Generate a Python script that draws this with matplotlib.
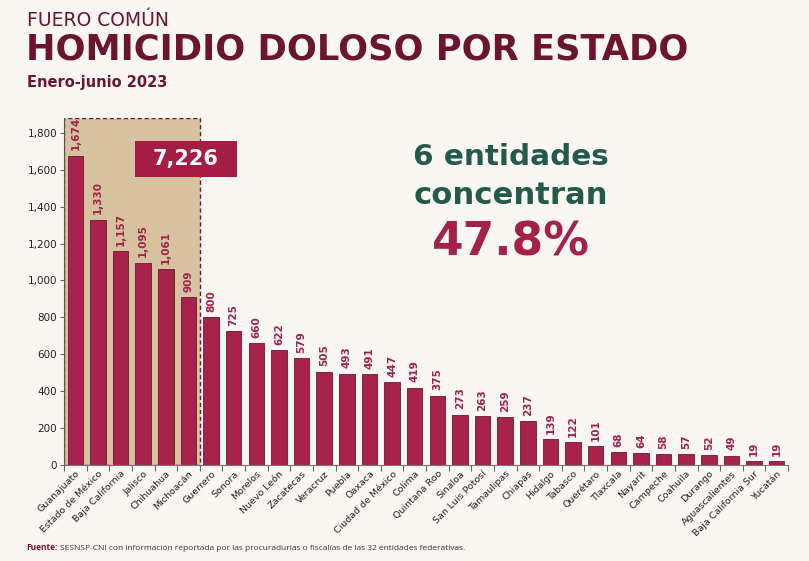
import matplotlib
matplotlib.use("Agg")
import matplotlib.pyplot as plt
from matplotlib.patches import Rectangle

estados = ["Guanajuato", "Estado de México", "Baja California", "Jalisco", "Chihuahua",
           "Michoacán", "Guerrero", "Sonora", "Morelos", "Nuevo León", "Zacatecas",
           "Veracruz", "Puebla", "Oaxaca", "Ciudad de México", "Colima", "Quintana Roo",
           "Sinaloa", "San Luis Potosí", "Tamaulipas", "Chiapas", "Hidalgo", "Tabasco",
           "Querétaro", "Tlaxcala", "Nayarit", "Campeche", "Coahuila", "Durango",
           "Aguascalientes", "Baja California Sur", "Yucatán"]
homicidios = [1674, 1330, 1157, 1095, 1061, 909, 800, 725, 660, 622, 579, 505, 493,
              491, 447, 419, 375, 273, 263, 259, 237, 139, 122, 101, 68, 64, 58, 57,
              52, 49, 19, 19]
yticks = [0, 200, 400, 600, 800, 1000, 1200, 1400, 1600, 1800]
total_top6 = "7,226"
porcentaje = "47.8%"

maroon = "#6b1530"
barc = "#a8234b"
green = "#245a4b"

W, H = 809, 561
fig = plt.figure(figsize=(W/100, H/100), dpi=100, facecolor="#faf7f3")
renderer = fig.canvas.get_renderer()


def fit_text(px_left, px_center_y, txt, target_w, ha="left", **kw):
    t = fig.text(px_left / W, 1 - px_center_y / H, txt, ha=ha, va="center", **kw)
    w = t.get_window_extent(renderer).width
    t.set_fontsize(t.get_fontsize() * target_w / w)
    return t


ax = fig.add_axes([64/W, 1-465/H, (788-64)/W, (465-118)/H])
ax.set_facecolor("none")

x = list(range(len(estados)))
ax.set_xlim(-0.5, 31.5)
ax.set_ylim(0, 1880)

ax.add_patch(Rectangle((-0.5, 0), 6, 1880, facecolor="#d6c29e", edgecolor="#6b1530",
                       linestyle=(0, (3, 2)), linewidth=1.0, zorder=0))

ax.bar(x, homicidios, width=0.68, color=barc, edgecolor="#6e1632", linewidth=0.6, zorder=2)
for xi, v in zip(x, homicidios):
    ax.text(xi, v + 30, f"{v:,}", rotation=90, ha="center", va="bottom",
            fontsize=7.5, fontweight="bold", color="#a3214a", zorder=3)

ax.set_yticks(yticks)
ax.set_yticklabels([f"{t:,}" for t in yticks], fontsize=7.5, color="#222222")
ax.set_xticks([i - 0.5 for i in range(len(estados) + 1)], minor=False)
ax.set_xticklabels([""] * (len(estados) + 1))
ax.set_xticks(x, minor=True)
ax.set_xticklabels(estados, minor=True, rotation=45, ha="right", rotation_mode="anchor",
                   fontsize=6.8, color="#222222")
ax.tick_params(axis="x", which="minor", length=0, pad=3)
ax.tick_params(axis="x", which="major", length=4, color="#666666")
ax.tick_params(axis="y", length=3, color="#666666", pad=2)
for s in ["top", "right"]:
    ax.spines[s].set_visible(False)
ax.spines["left"].set_color("#555555")
ax.spines["bottom"].set_color("#777777")

fig.patches.append(Rectangle((135/W, 1-177/H), 102/W, 36/H, transform=fig.transFigure,
                             facecolor="#a51d43", edgecolor="none", zorder=5))
fit_text(186, 159, total_top6, 66, ha="center", fontsize=17, fontweight="bold",
         color="white", family="DejaVu Sans", zorder=6)

fit_text(511, 157, "6 entidades", 195, ha="center", fontsize=22, fontweight="bold",
         color=green, family="DejaVu Sans")
fit_text(511, 195, "concentran", 193, ha="center", fontsize=22, fontweight="bold",
         color=green, family="DejaVu Sans")
fit_text(511, 243, porcentaje, 158, ha="center", fontsize=36, fontweight="heavy",
         color="#a3214a", family="DejaVu Sans")

fig.text(27/W, 1-21/H, "FUERO COMÚN", ha="left", va="center", fontsize=13.5,
         color=maroon, family="DejaVu Sans")
fit_text(26, 50, "HOMICIDIO DOLOSO POR ESTADO", 662, fontsize=27, fontweight="bold",
         color=maroon, family="DejaVu Sans")
fit_text(27, 82, "Enero-junio 2023", 140, fontsize=11, fontweight="bold",
         color=maroon, family="DejaVu Sans")

tf = fig.text(26/W, 1-548/H, "Fuente:", ha="left", va="center", fontsize=6.0,
              fontweight="bold", color=maroon, family="Open Sans")
wf = tf.get_window_extent(renderer).width
fig.text((26 + wf + 3)/W, 1-548/H,
         "SESNSP-CNI con información reportada por las procuradurías o fiscalías de las 32 entidades federativas.",
         ha="left", va="center", fontsize=6.0, color="#333333", family="Open Sans")

fig.savefig("out.png", dpi=100, facecolor=fig.get_facecolor())
